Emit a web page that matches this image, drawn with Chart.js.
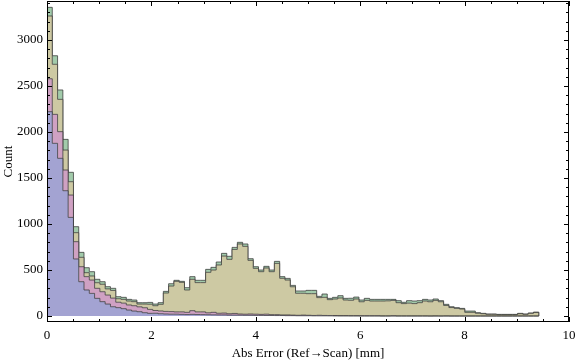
<!DOCTYPE html>
<html>
<head>
<meta charset="utf-8">
<script src="https://cdn.jsdelivr.net/npm/chart.js@4"></script>
<style>
  body { margin: 0; background: #fff; }
</style>
</head>
<body>
<canvas id="chart-area" width="576" height="362"></canvas>
<script>
// histogram bins start at 0, all the same width (93 bins up to ~9.42)
var binWidth = 0.1013;

var blueCounts = [
  2221, 1877, 1714, 1362, 1072, 620, 373, 283, 246, 192,
  156, 130, 101, 91, 80, 65, 54, 47, 36, 29,
  30, 25, 22, 20, 20, 18, 16, 18, 16, 15,
  14, 13, 12, 12, 10, 10, 9, 8, 8, 7,
  7, 6, 6, 5, 5, 4, 4, 3, 3, 3,
  2, 2, 2, 2, 1, 1, 1, 1, 1, 1,
  1, 1, 1, 0, 0, 1, 0, 0, 0, 0,
  0, 0, 0, 0, 0, 0, 0, 0, 0, 0,
  0, 0, 0, 0, 0, 0, 0, 0, 0, 0,
  0, 0, 0
];
var pinkCounts = [
  358, 315, 290, 225, 243, 188, 163, 145, 145, 109,
  108, 98, 94, 59, 60, 55, 58, 53, 54, 43,
  30, 30, 28, 28, 25, 27, 24, 40, 29, 30,
  21, 27, 18, 20, 15, 18, 13, 12, 14, 13,
  11, 14, 9, 10, 7, 8, 6, 5, 7, 5,
  4, 6, 4, 3, 4, 3, 3, 2, 2, 1,
  1, 1, 1, 1, 1, 1, 1, 1, 1, 1,
  1, 1, 0, 1, 0, 1, 0, 0, 0, 0,
  0, 0, 0, 0, 0, 0, 0, 0, 0, 0,
  0, 0, 0
];
var yellowCounts = [
  682, 544, 351, 217, 145, 98, 102, 43, 44, 61,
  81, 67, 83, 38, 41, 43, 44, 30, 40, 56,
  52, 72, 200, 278, 332, 321, 243, 341, 318, 318,
  440, 460, 525, 620, 591, 696, 761, 737, 583, 498,
  464, 502, 467, 557, 398, 379, 308, 239, 237, 235,
  237, 192, 197, 173, 180, 192, 170, 168, 182, 153,
  168, 161, 161, 162, 164, 168, 144, 134, 139, 134,
  144, 162, 155, 169, 155, 114, 92, 83, 76, 40,
  40, 30, 25, 18, 18, 15, 15, 15, 15, 25,
  18, 29, 38
];
var greenCounts = [
  94, 93, 102, 116, 102, 65, 54, 54, 47, 37,
  28, 24, 23, 22, 22, 18, 18, 15, 15, 20,
  18, 18, 18, 25, 11, 11, 25, 29, 25, 25,
  32, 29, 32, 29, 33, 22, 18, 26, 18, 18,
  18, 18, 18, 22, 18, 18, 15, 25, 25, 36,
  36, 14, 36, 14, 18, 25, 18, 22, 21, 19,
  22, 18, 18, 18, 16, 11, 22, 14, 27, 28,
  22, 18, 19, 15, 12, 12, 9, 8, 7, 14,
  14, 6, 4, 4, 4, 3, 3, 3, 3, 4,
  4, 4, 5
];

var xTickValues = [0, 2, 4, 6, 8, 10];
var yTickValues = [0, 500, 1000, 1500, 2000, 2500, 3000];

var serieColors = ['#a3a3d2', '#cfa1c3', '#cdc9a3', '#a2cbab'];
var edgeColor = 'rgba(55,55,55,0.75)';
var serifFont = "'Liberation Serif', 'DejaVu Serif', serif";

// stacked outline of one layer, as step points on the bin edges
let buildSteps = function (tops) {
    var pts = [{ x: 0, y: 0 }];
    for (var i = 0; i < tops.length; i++) {
        pts.push({ x: i * binWidth, y: tops[i] });
    }
    var end = tops.length * binWidth;
    pts.push({ x: end, y: tops[tops.length - 1] });
    pts.push({ x: end, y: 0 });
    return pts;
};

var layers = [blueCounts, pinkCounts, yellowCounts, greenCounts];
var running = blueCounts.map(() => 0);
var datasets = [];
for (var s = 0; s < layers.length; s++) {
    running = running.map((v, i) => v + layers[s][i]);
    datasets.push({
        data: buildSteps(running.slice()),
        stepped: 'before',
        borderColor: edgeColor,
        borderWidth: 1,
        backgroundColor: serieColors[s],
        fill: s === 0 ? 'origin' : '-1',
        pointRadius: 0,
        tension: 0
    });
}

// Mathematica style frame, ticks drawn inwards on all four sides
var frameTicks = {
    id: 'frameTicks',
    afterDraw: function (chart) {
        var ctx = chart.ctx, a = chart.chartArea;
        var xs = chart.scales.x, ys = chart.scales.y;
        ctx.save();
        ctx.strokeStyle = '#000';
        ctx.lineWidth = 1;
        ctx.strokeRect(a.left + 0.5, a.top + 0.5, a.right - a.left - 1, a.bottom - a.top - 1);
        ctx.beginPath();
        for (var v = 0; v <= 3400; v += 100) {
            var y = Math.round(ys.getPixelForValue(v)) + 0.5;
            var len = v % 500 === 0 ? 5 : 3;
            ctx.moveTo(a.left, y); ctx.lineTo(a.left + len, y);
            ctx.moveTo(a.right, y); ctx.lineTo(a.right - len, y);
        }
        for (var k = 0; k <= 20; k++) {
            var x = Math.round(xs.getPixelForValue(k * 0.5)) + 0.5;
            var len2 = k % 4 === 0 ? 5 : 3;
            ctx.moveTo(x, a.bottom); ctx.lineTo(x, a.bottom - len2);
            ctx.moveTo(x, a.top); ctx.lineTo(x, a.top + len2);
        }
        ctx.stroke();
        ctx.restore();
    }
};

var ctx = document.getElementById('chart-area').getContext('2d');
var config = {
    type: 'line',
    data: { datasets: datasets },
    plugins: [frameTicks],
    options: {
        responsive: false,
        animation: false,
        devicePixelRatio: 1,
        layout: { padding: { top: 1, right: 7, left: 0, bottom: 0 } },
        plugins: { legend: { display: false }, tooltip: { enabled: false } },
        scales: {
            x: {
                type: 'linear',
                min: 0,
                max: 10,
                afterFit: (sc) => { sc.height = 40; sc.paddingLeft = 0; sc.paddingRight = 0; },
                afterBuildTicks: (sc) => { sc.ticks = xTickValues.map(v => ({ value: v })); },
                grid: { display: true, drawOnChartArea: false, drawTicks: false },
                border: { display: false },
                ticks: { color: '#000', padding: 6, maxRotation: 0, callback: (v) => String(v), font: { family: serifFont, size: 13 } },
                title: {
                    display: true,
                    text: 'Abs Error (Ref\u2192Scan) [mm]',
                    color: '#000',
                    padding: { top: 0, bottom: 1 },
                    font: { family: serifFont, size: 13 }
                }
            },
            y: {
                type: 'linear',
                min: -65,
                max: 3424,
                afterFit: (sc) => { sc.width = 47; sc.paddingTop = 0; sc.paddingBottom = 0; },
                afterBuildTicks: (sc) => { sc.ticks = yTickValues.map(v => ({ value: v })); },
                grid: { display: true, drawOnChartArea: false, drawTicks: false },
                border: { display: false },
                ticks: { color: '#000', padding: 4, callback: (v) => String(v), font: { family: serifFont, size: 13 } },
                title: {
                    display: true,
                    text: 'Count',
                    color: '#000',
                    padding: { top: 1, bottom: 0 },
                    font: { family: serifFont, size: 13 }
                }
            }
        }
    }
};
window.myHist = new Chart(ctx, config);
</script>
</body>
</html>
